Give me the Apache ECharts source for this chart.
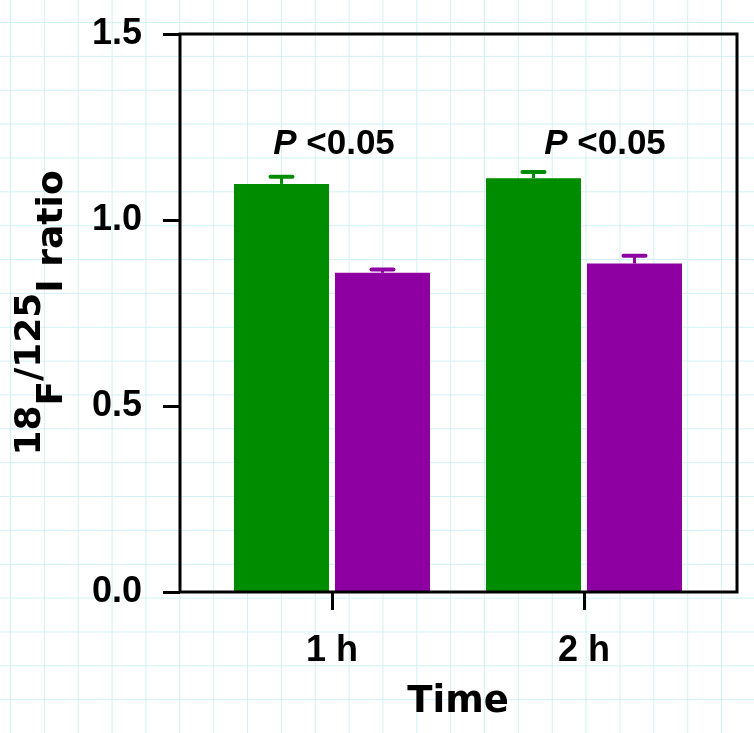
<!DOCTYPE html>
<html>
<head>
<meta charset="utf-8">
<script src="https://cdn.jsdelivr.net/npm/echarts@6/dist/echarts.min.js"></script>
<style>
html,body{margin:0;padding:0;}
body{
  width:754px;height:733px;background-color:#fff;
  background-image:linear-gradient(to right,#d2f1f5 1px,transparent 1px),linear-gradient(to bottom,#d2f1f5 1px,transparent 1px);
  background-size:33.86px 33.86px;background-position:10px 22px;
}
#chart{width:754px;height:733px;}
</style>
</head>
<body>
<div id="chart"></div>
<script>
// ---- data ----
const categories = ['1 h', '2 h'];
const greenValues = [1.097, 1.112];
const greenErrors = [0.019, 0.017];
const purpleValues = [0.858, 0.883];
const purpleErrors = [0.009, 0.021];
const yTicks = [0, 0.5, 1.0, 1.5];
const pLabels = ['P <0.05', 'P <0.05'];

// ---- styling ----
const FONT = '"Liberation Sans", Arial, Helvetica, sans-serif';
const TFONT = '"DejaVu Sans", Verdana, sans-serif';
const GREEN = '#008c00';
const PURPLE = '#8e00a2';
const BAR_W = 95;
const BAR_GAP_PX = 6;
const PLABEL_Y = 1.156;
const PLABEL_DX = [2, 21];

function errRender(values, errors, color, dir) {
  return function (params, api) {
    const i = api.value(0);
    const base = api.coord([i, values[i]]);
    const top = api.coord([i, values[i] + errors[i]]);
    const x = base[0] + dir * (BAR_W + BAR_GAP_PX) / 2;
    return {
      type: 'group',
      children: [
        {type: 'line', shape: {x1: x, y1: base[1], x2: x, y2: top[1]}, style: {stroke: color, lineWidth: 3}},
        {type: 'line', shape: {x1: x - 11, y1: top[1], x2: x + 11, y2: top[1]}, style: {stroke: color, lineWidth: 4, lineCap: 'round'}}
      ]
    };
  };
}

const chart = echarts.init(document.getElementById('chart'), null, {renderer: 'canvas'});
const option = {
  animation: false,
  grid: [
    {left: 206, right: 44, top: 34, bottom: 141, containLabel: false},
    {left: 180, right: 17, top: 34, bottom: 141, show: true, borderColor: '#000', borderWidth: 3, backgroundColor: 'transparent', z: 5}
  ],
  xAxis: [
    {
      gridIndex: 0, type: 'category', data: categories,
      axisLine: {show: false},
      axisTick: {show: true, alignWithLabel: true, length: 18, lineStyle: {color: '#000', width: 3}},
      axisLabel: {color: '#000', fontFamily: FONT, fontWeight: 'bold', fontSize: 36, margin: 41},
      name: 'Time', nameLocation: 'middle', nameGap: 92,
      nameTextStyle: {color: '#000', fontFamily: TFONT, fontWeight: 'bold', fontSize: 37}
    },
    {gridIndex: 1, type: 'value', show: false}
  ],
  yAxis: [
    {
      gridIndex: 0, type: 'value', min: yTicks[0], max: yTicks[yTicks.length - 1], interval: yTicks[1] - yTicks[0],
      offset: 26,
      axisLine: {show: false},
      axisTick: {show: true, length: 17, lineStyle: {color: '#000', width: 3}},
      splitLine: {show: false},
      axisLabel: {color: '#000', fontFamily: FONT, fontWeight: 'bold', fontSize: 36, margin: 38,
        formatter: v => v.toFixed(1)},
      name: '{sup|18}{sub|F}{sup|/125}{sub|I ratio}',
      nameLocation: 'middle', nameRotate: 90, nameGap: 109,
      nameTextStyle: {
        color: '#000', fontFamily: TFONT, fontWeight: 'bold', fontSize: 36,
        rich: {
          sup: {color: '#000', fontFamily: TFONT, fontWeight: 'bold', fontSize: 36, verticalAlign: 'bottom', padding: [0, 0, 22, 0]},
          sub: {color: '#000', fontFamily: TFONT, fontWeight: 'bold', fontSize: 36, verticalAlign: 'bottom'}
        }
      }
    },
    {gridIndex: 1, type: 'value', show: false}
  ],
  series: [
    {type: 'bar', xAxisIndex: 0, yAxisIndex: 0, data: greenValues, barWidth: BAR_W, barGap: (BAR_GAP_PX / BAR_W * 100) + '%', itemStyle: {color: GREEN}},
    {type: 'bar', xAxisIndex: 0, yAxisIndex: 0, data: purpleValues, barWidth: BAR_W, itemStyle: {color: PURPLE}},
    {type: 'custom', xAxisIndex: 0, yAxisIndex: 0, data: categories.map((c, i) => [i]), renderItem: errRender(greenValues, greenErrors, GREEN, -1), z: 3},
    {type: 'custom', xAxisIndex: 0, yAxisIndex: 0, data: categories.map((c, i) => [i]), renderItem: errRender(purpleValues, purpleErrors, PURPLE, 1), z: 3},
    {
      type: 'custom', xAxisIndex: 0, yAxisIndex: 0, data: categories.map((c, i) => [i]), z: 4,
      renderItem: function (params, api) {
        const i = api.value(0);
        const p = api.coord([i, PLABEL_Y]);
        const parts = pLabels[i].split(' ');
        return {
          type: 'text', x: p[0] + PLABEL_DX[i], y: p[1],
          style: {
            text: '{i|' + parts[0] + '} {n|' + parts.slice(1).join(' ') + '}',
            align: 'center', verticalAlign: 'bottom',
            rich: {
              i: {fontFamily: FONT, fontWeight: 'bold', fontStyle: 'italic', fontSize: 35, fill: '#000'},
              n: {fontFamily: FONT, fontWeight: 'bold', fontSize: 35, fill: '#000'}
            },
            font: 'bold 35px ' + FONT, fill: '#000'
          }
        };
      }
    }
  ]
};
chart.setOption(option);
</script>
</body>
</html>
